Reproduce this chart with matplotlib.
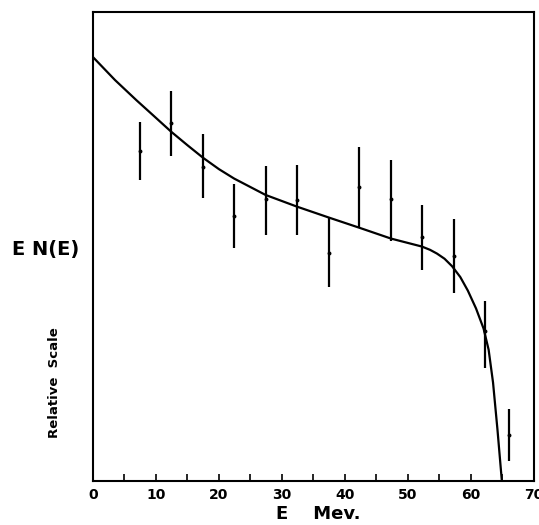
import numpy as np
import matplotlib
matplotlib.use("Agg")
import matplotlib.pyplot as plt

# measured points (relative scale), E in Mev
energy = [7.5, 12.4, 17.5, 22.4, 27.4, 32.4, 37.4, 42.3, 47.3, 52.2, 57.3, 62.3, 66.1]
counts = [7.04, 7.64, 6.70, 5.65, 6.01, 5.99, 4.87, 6.28, 6.01, 5.21, 4.80, 3.20, 0.98]
err_low = [6.42, 6.94, 6.04, 4.96, 5.25, 5.24, 4.14, 5.42, 5.12, 4.50, 4.00, 2.42, 0.43]
err_high = [7.65, 8.32, 7.40, 6.33, 6.72, 6.73, 5.60, 7.12, 6.84, 5.88, 5.59, 3.84, 1.54]

# theoretical curve
curve_e = [0.0, 3.5, 6.9, 9.7, 12.4, 15.0, 17.5, 20.0, 22.4, 27.4, 32.4, 37.4, 42.3, 47.3,
           52.2, 53.5, 54.6, 55.8, 57.0, 58.3, 59.5, 60.8, 62.0, 62.8, 63.5, 64.2, 64.9, 65.1]
curve_y = [9.04, 8.55, 8.12, 7.78, 7.45, 7.16, 6.89, 6.65, 6.45, 6.10, 5.85, 5.62, 5.40, 5.17,
           5.00, 4.93, 4.85, 4.74, 4.58, 4.35, 4.06, 3.68, 3.25, 2.80, 2.10, 1.10, 0.0, -0.3]

x_ticks = [0, 10, 20, 30, 40, 50, 60, 70]

fig = plt.figure(figsize=(5.39, 5.25), dpi=100)
ax = fig.add_axes([0.1725, 0.0838, 0.8182, 0.8932])

ax.plot(curve_e, curve_y, color="black", linewidth=1.6, solid_capstyle="butt")

y = np.array(counts)
yerr = [y - np.array(err_low), np.array(err_high) - y]
ax.errorbar(energy, counts, yerr=yerr, fmt="o", color="black", markersize=1.8,
            elinewidth=1.6, capsize=0)

ax.set_xlim(0, 70)
ax.set_ylim(0, 10)
ax.set_xticks(x_ticks)
ax.set_xticks(np.arange(5, 70, 10), minor=True)
ax.set_xticklabels([str(t) for t in x_ticks], fontsize=10, fontweight="bold")
ax.set_yticks([])
ax.tick_params(axis="x", which="both", direction="in", length=5, width=1.2, pad=5)
for s in ax.spines.values():
    s.set_linewidth(1.5)

fig.text(0.590, 0.004, "E    Mev.", fontsize=13, fontweight="bold", ha="center", va="bottom")
fig.text(0.085, 0.524, "E N(E)", fontsize=14, fontweight="bold", ha="center", va="center")
fig.text(0.101, 0.272, "Relative  Scale", fontsize=9.5, fontweight="bold", rotation=90,
         ha="center", va="center")

fig.savefig("out.png", dpi=100)
